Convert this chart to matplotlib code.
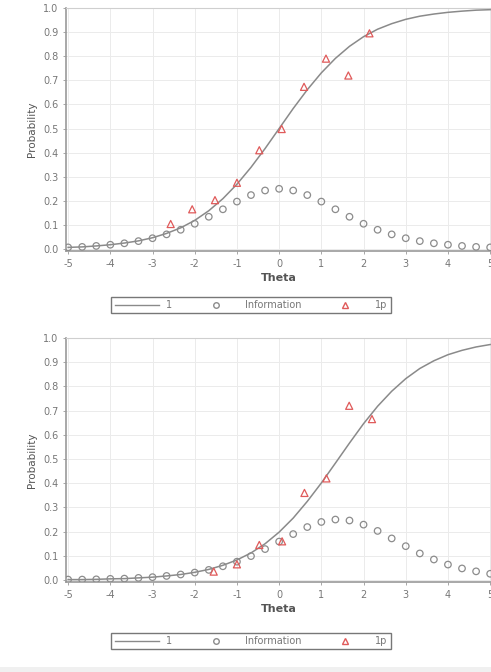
import matplotlib
matplotlib.use("Agg")
import matplotlib.pyplot as plt
from matplotlib.lines import Line2D
from matplotlib.patches import Rectangle

# ---- data ----
theta = [-5, -4.667, -4.333, -4, -3.667, -3.333, -3, -2.667, -2.333, -2, -1.667, -1.333,
         -1, -0.667, -0.333, 0, 0.333, 0.667, 1, 1.333, 1.667, 2, 2.333, 2.667, 3,
         3.333, 3.667, 4, 4.333, 4.667, 5]

top_curve = [0.007, 0.009, 0.013, 0.018, 0.025, 0.034, 0.047, 0.065, 0.088, 0.119, 0.159,
             0.209, 0.269, 0.339, 0.417, 0.5, 0.583, 0.661, 0.731, 0.791, 0.841, 0.881,
             0.912, 0.935, 0.953, 0.966, 0.975, 0.982, 0.987, 0.991, 0.993]
top_info = [0.007, 0.009, 0.013, 0.018, 0.024, 0.033, 0.045, 0.061, 0.080, 0.105, 0.134,
            0.165, 0.197, 0.224, 0.243, 0.25, 0.243, 0.224, 0.197, 0.165, 0.134, 0.105,
            0.080, 0.061, 0.045, 0.033, 0.024, 0.018, 0.013, 0.009, 0.007]
top_obs_x = [-2.57, -2.06, -1.52, -1.0, -0.47, 0.06, 0.59, 1.11, 1.64, 2.14]
top_obs_y = [0.104, 0.165, 0.203, 0.275, 0.41, 0.498, 0.673, 0.79, 0.72, 0.895]

bot_curve = [0.002, 0.002, 0.003, 0.005, 0.006, 0.009, 0.012, 0.017, 0.023, 0.032, 0.044,
             0.061, 0.083, 0.112, 0.150, 0.198, 0.256, 0.325, 0.401, 0.483, 0.566, 0.646,
             0.718, 0.780, 0.832, 0.874, 0.906, 0.931, 0.949, 0.963, 0.973]
bot_info = [0.002, 0.002, 0.003, 0.005, 0.006, 0.009, 0.012, 0.017, 0.023, 0.031, 0.042,
            0.057, 0.076, 0.099, 0.128, 0.159, 0.190, 0.219, 0.240, 0.250, 0.246, 0.229,
            0.203, 0.172, 0.140, 0.110, 0.085, 0.064, 0.048, 0.036, 0.026]
bot_obs_x = [-1.55, -1.0, -0.47, 0.07, 0.6, 1.12, 1.66, 2.2]
bot_obs_y = [0.035, 0.065, 0.145, 0.16, 0.36, 0.42, 0.72, 0.665]

x_ticks = [-5, -4, -3, -2, -1, 0, 1, 2, 3, 4, 5]
y_ticks = [0.0, 0.1, 0.2, 0.3, 0.4, 0.5, 0.6, 0.7, 0.8, 0.9, 1.0]
legend_labels = ["1", "Information", "1p"]

# ---- style ----
W, H = 491, 672
fig = plt.figure(figsize=(W / 100, H / 100), dpi=100)
fig.patch.set_facecolor("white")

line_col = "#8a8a8a"
info_col = "#8c8c8c"
obs_col = "#e05a5a"
txt_col = "#777777"

def px_axes(left, top, right, bottom):
    return [left / W, 1 - bottom / H, (right - left) / W, (bottom - top) / H]

def draw_panel(rect, curve, info, ox, oy, leg_y):
    ax = fig.add_axes(rect)
    ax.set_xlim(-5.05, 5.02)
    ax.set_ylim(-0.008, 1.0)
    ax.set_xticks(x_ticks)
    ax.set_yticks(y_ticks)
    ax.set_xticklabels([str(t) for t in x_ticks])
    ax.set_yticklabels([f"{t:.1f}" for t in y_ticks])
    ax.grid(True, color="#ebebeb", linewidth=0.7)
    ax.set_axisbelow(True)
    for s in ["top", "right"]:
        ax.spines[s].set_color("#cfcfcf")
        ax.spines[s].set_linewidth(0.8)
    for s in ["left", "bottom"]:
        ax.spines[s].set_color("#9a9a9a")
        ax.spines[s].set_linewidth(1.2)
    ax.tick_params(colors="#999999", labelcolor=txt_col, labelsize=7, length=2, width=0.6)
    ax.plot(theta, curve, color=line_col, linewidth=1.1, zorder=3)
    ax.scatter(theta, info, s=22, facecolors="none", edgecolors=info_col, linewidths=0.9,
               marker="o", zorder=4)
    ax.scatter(ox, oy, s=26, facecolors="none", edgecolors=obs_col, linewidths=0.9,
               marker="^", zorder=5)
    ax.set_xlabel("Theta", fontsize=8, fontweight="bold", color="#555555", labelpad=3)
    ax.set_ylabel("Probability", fontsize=7.5, color="#555555", labelpad=4)
    handles = [
        Line2D([], [], color=line_col, linewidth=1.0),
        Line2D([], [], color=info_col, marker="o", markerfacecolor="none", linestyle="none",
               markersize=4),
        Line2D([], [], color=obs_col, marker="^", markerfacecolor="none", linestyle="none",
               markersize=4),
    ]
    leg = fig.legend(handles, legend_labels, ncol=3, loc="center",
                     bbox_to_anchor=(251 / W, 1 - leg_y / H), fontsize=7, frameon=True,
                     fancybox=False, edgecolor="#555555", handlelength=4.5,
                     columnspacing=2.2, handletextpad=0.8, borderpad=0.35, labelcolor=txt_col)
    leg.get_frame().set_linewidth(1.0)
    return ax

draw_panel(px_axes(66, 8, 491, 251), top_curve, top_info, top_obs_x, top_obs_y, 305)
draw_panel(px_axes(66, 338, 491, 582), bot_curve, bot_info, bot_obs_x, bot_obs_y, 641)

fig.patches.append(Rectangle((0, 0), 1, 5 / H, transform=fig.transFigure,
                             facecolor="#f0f0f0", edgecolor="none"))

fig.savefig("out.png", dpi=100)
